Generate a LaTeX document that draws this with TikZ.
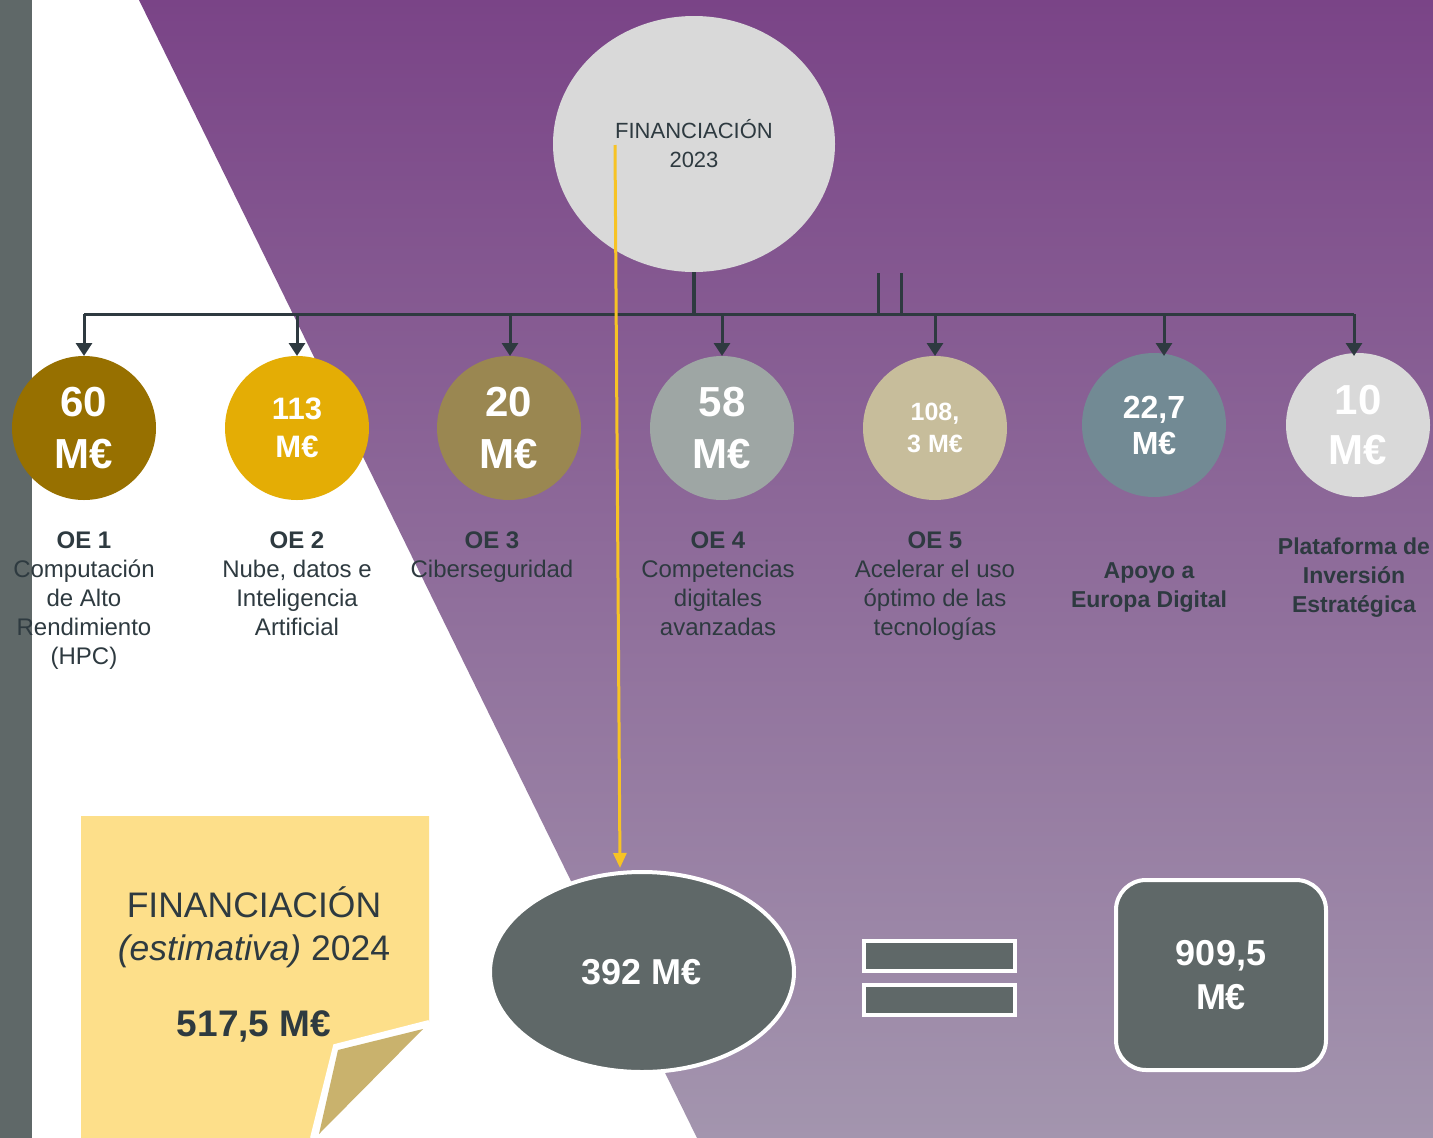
\documentclass[tikz,border=0pt]{standalone}
\usepackage{fontspec}
\setmainfont{Liberation Sans}
\usetikzlibrary{arrows.meta,shapes.geometric}
\definecolor{txt}{HTML}{2E3A40}
\definecolor{strip}{HTML}{5F6868}
\definecolor{purtop}{HTML}{7A4487}
\definecolor{purbot}{HTML}{A395AE}
\definecolor{cA}{HTML}{977000}
\definecolor{cB}{HTML}{E4AD05}
\definecolor{cC}{HTML}{9A8751}
\definecolor{cD}{HTML}{9EA6A4}
\definecolor{cE}{HTML}{C7BD9B}
\definecolor{cF}{HTML}{728A94}
\definecolor{cG}{HTML}{D9D9D9}
\definecolor{note}{HTML}{FDDF8A}
\definecolor{fold}{HTML}{C9B26D}
\definecolor{ylw}{HTML}{F7C325}
\tikzset{
  amount/.style={circle,minimum size=144pt,inner sep=0pt,text=white,align=center,font=\bfseries},
  lbl/.style={anchor=north,inner sep=0pt,text=txt,align=center,font=\fontsize{24}{29}\selectfont},
  conn/.style={draw=txt,line width=3pt},
  arr/.style={conn,-{Triangle[width=16pt,length=13pt]}},
  darkbox/.style={fill=strip,draw=white,line width=4pt,text=white,font=\bfseries}
}
\begin{document}
\begin{tikzpicture}[x=1pt,y=-1pt]
\useasboundingbox (0,0) rectangle (1433,1138);
\fill[white] (0,0) rectangle (1433,1138);
\fill[strip] (0,0) rectangle (32,1138);
\shade[top color=purtop,bottom color=purbot] (139,0) -- (1433,0) -- (1433,1138) -- (697,1138) -- cycle;

% top circle
\node[ellipse,fill=cG,minimum width=282pt,minimum height=256pt,inner sep=0pt,text=txt,align=center,font=\fontsize{22}{29}\selectfont] (fin) at (694,144) {FINANCIACIÓN\\2023};

% amounts
\node[amount,fill=cA,font=\bfseries\fontsize{42}{52}\selectfont] (a1) at (84,428) {60\\M€};
\node[amount,fill=cB,font=\bfseries\fontsize{31}{38}\selectfont] (a2) at (297,428) {113\\M€};
\node[amount,fill=cC,font=\bfseries\fontsize{42}{52}\selectfont] (a3) at (509,428) {20\\M€};
\node[amount,fill=cD,font=\bfseries\fontsize{42}{52}\selectfont] (a4) at (722,428) {58\\M€};
\node[amount,fill=cE,font=\bfseries\fontsize{25}{32}\selectfont] (a5) at (935,428) {108,\\3 M€};
\node[amount,fill=cF,font=\bfseries\fontsize{32}{36}\selectfont] (a6) at (1154,425) {22,7\\M€};
\node[amount,fill=cG,font=\bfseries\fontsize{42}{50}\selectfont] (a7) at (1358,425) {10\\M€};

% connectors
\coordinate (bus) at (694,314);
\coordinate (busL) at (84,314);
\coordinate (busR) at (1354,314);
\coordinate (tk1) at (878,273);
\coordinate (tk2) at (901,273);
\draw[conn,line width=3.5pt] (fin.south) -- (bus);
\draw[conn] (busL) -- (busR);
\draw[conn] (tk1) -- (tk1 |- bus);
\draw[conn] (tk2) -- (tk2 |- bus);
\foreach \n/\xx in {a1/84,a2/297,a3/510,a4/722,a5/935,a6/1164,a7/1354}{
  \draw[arr] (\xx,314) -- (\xx,356);
}

% labels
\node[lbl] (l1) at (84,532) {\textbf{OE 1}\\Computación\\de Alto\\Rendimiento\\(HPC)};
\node[lbl] (l2) at (297,532) {\textbf{OE 2}\\Nube, datos e\\Inteligencia\\Artificial};
\node[lbl] (l3) at (492,532) {\textbf{OE 3}\\Ciberseguridad};
\node[lbl] (l4) at (718,532) {\textbf{OE 4}\\Competencias\\digitales\\avanzadas};
\node[lbl] (l5) at (935,532) {\textbf{OE 5}\\Acelerar el uso\\óptimo de las\\tecnologías};
\node[lbl,font=\bfseries\fontsize{23}{29}\selectfont] (l6) at (1149,562) {Apoyo a\\Europa Digital};
\node[lbl,font=\bfseries\fontsize{23}{29}\selectfont] (l7) at (1354,538) {Plataforma de\\Inversión\\Estratégica};

% sticky note
\fill[note] (81,816) -- (429,816) -- (429,1022) -- (335,1046) -- (312,1138) -- (81,1138) -- cycle;
\draw[white,line width=4pt,line join=miter] (429,1022) -- (335,1046) -- (312,1138);
\fill[fold] (338,1050) -- (423,1029) -- (319,1134) -- cycle;
\node[text=txt,align=center,font=\fontsize{35.5}{43}\selectfont] (n24) at (254,927) {FINANCIACIÓN\\\textit{(estimativa)} 2024};
\node[text=txt,font=\bfseries\fontsize{37}{42}\selectfont] (n24v) at (254,1026) {517,5 M€};

% bottom row
\node[ellipse,darkbox,minimum width=304pt,minimum height=200pt,font=\bfseries\fontsize{36}{42}\selectfont] (tot23) at (642,972) {392 M€};
\node[draw=white,fill=strip,line width=4pt,minimum width=151pt,minimum height=30pt,inner sep=0pt] (eq1) at (939.5,956) {};
\node[draw=white,fill=strip,line width=4pt,minimum width=151pt,minimum height=30pt,inner sep=0pt] (eq2) at (939.5,1000) {};
\node[darkbox,rounded corners=30pt,minimum width=210pt,minimum height=190pt,align=center,font=\bfseries\fontsize{36}{44}\selectfont] (tot) at (1221,975) {909,5\\M€};

% yellow link
\coordinate (ys) at (615,145);
\coordinate (ye) at (620,868);
\draw[ylw,line width=3pt,-{Triangle[width=13pt,length=15pt]}] (ys) -- (ye);
\end{tikzpicture}
\end{document}
